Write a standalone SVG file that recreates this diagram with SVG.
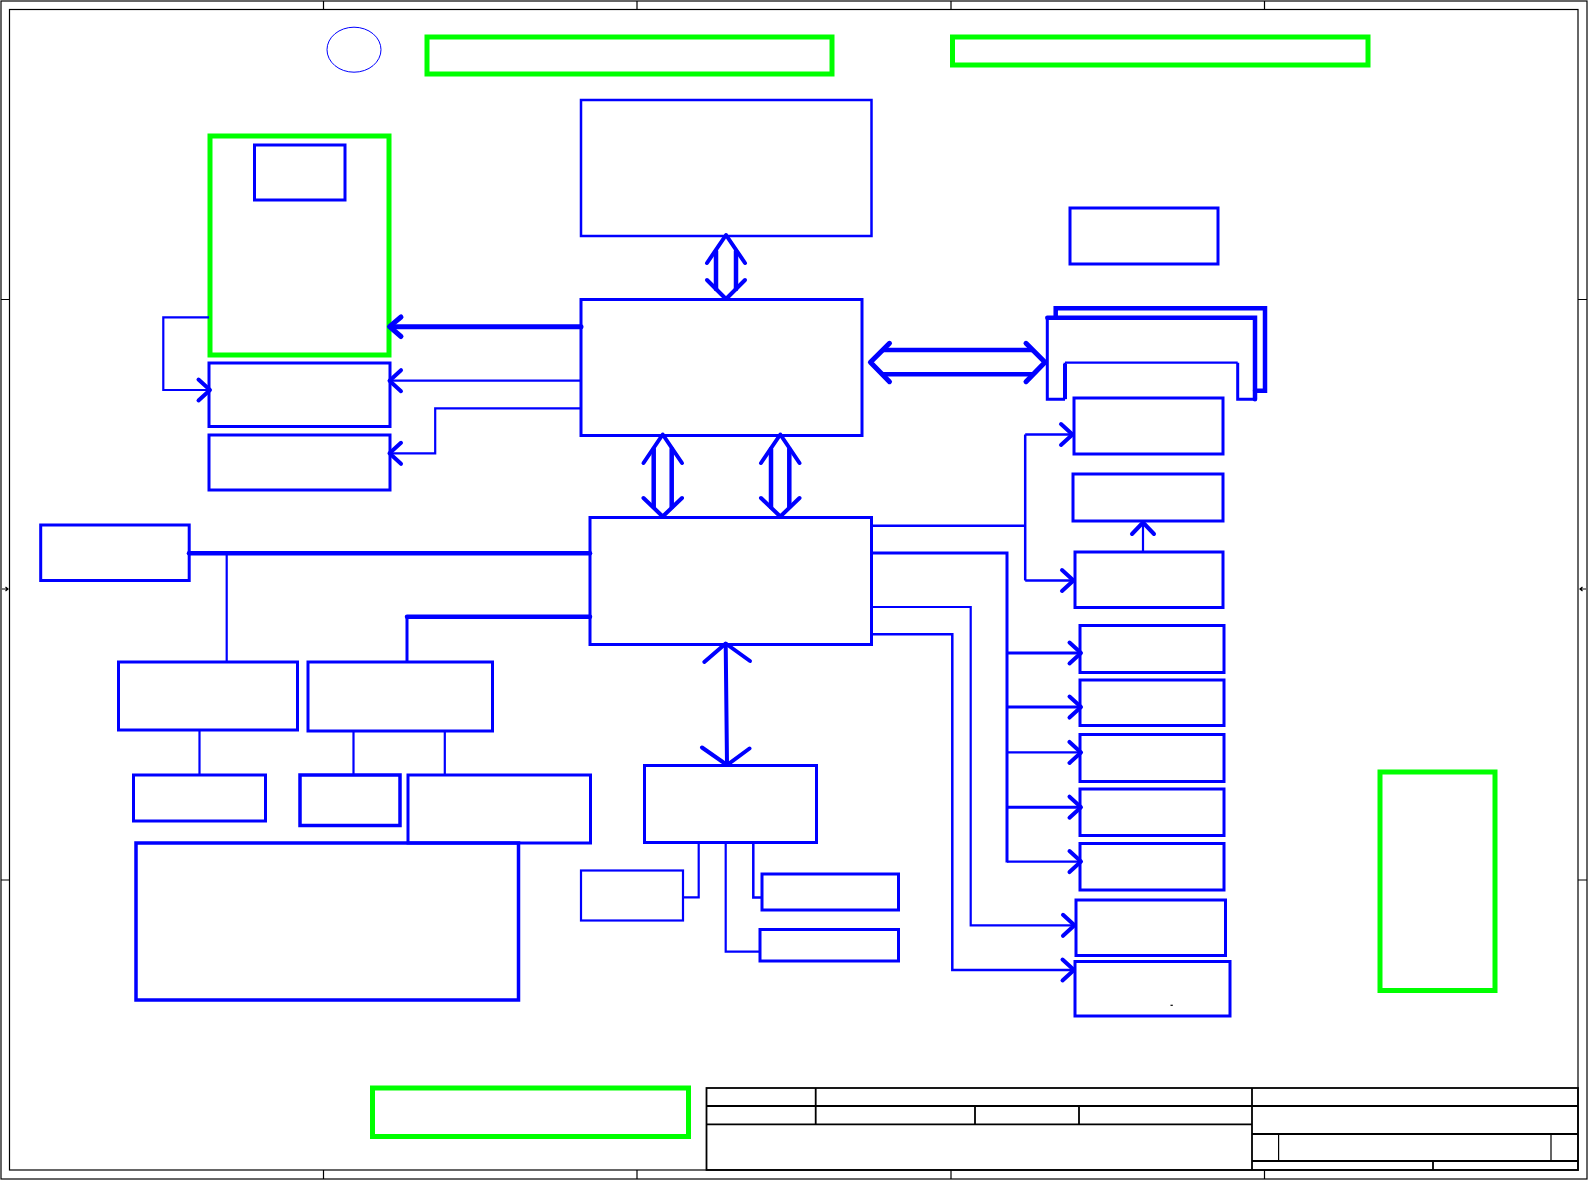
<svg xmlns="http://www.w3.org/2000/svg" width="1589" height="1180" viewBox="0 0 1589 1180">
<style>
.k{fill:none;stroke:#000;stroke-width:1.2}
.kt{fill:none;stroke:#000;stroke-width:1.8}
.b{fill:none;stroke:#0000ff;stroke-width:3}
.bt{fill:none;stroke:#0000ff;stroke-width:2.5}
.g{fill:none;stroke:#00ff00;stroke-width:5}
.w{fill:none;stroke:#0000ff;stroke-width:2.2}
.w3{fill:none;stroke:#0000ff;stroke-width:3}
.thick{fill:none;stroke:#0000ff;stroke-width:4.5}
.ch{fill:none;stroke:#0000ff;stroke-width:4;stroke-linecap:round;stroke-linejoin:round}
.chb{fill:none;stroke:#0000ff;stroke-width:5;stroke-linecap:round;stroke-linejoin:round}
.dl{fill:none;stroke:#0000ff;stroke-width:4.5;stroke-linecap:round}
</style>
<defs>
<polyline id="chR" points="-11.5,-10.5 0,0 -11.5,10.5"/>
<polyline id="chL" points="11.5,-10.5 0,0 11.5,10.5"/>
<polyline id="chU" points="-11,11.5 0,0 11,11.5"/>
</defs>
<rect width="1589" height="1180" fill="#fff"/>
<g id="frame">
<rect class="k" x="1" y="1" width="1586" height="1178"/>
<rect class="k" x="9.5" y="9.5" width="1568.5" height="1160.5"/>
<path class="k" d="M323.5 1V9.5M637 1V9.5M951 1V9.5M1264.5 1V9.5M323.5 1170V1179M637 1170V1179M951 1170V1179M1264.5 1170V1179M1 299.5H9.5M1 880H9.5M1578 299.5H1587M1578 880H1587"/>
<path class="k" d="M2 589H8M5.5 587L8 589L5.5 591M1586 589H1580M1582.5 587L1580 589L1582.5 591"/>
</g>
<g id="title-block">
<rect class="kt" x="706.5" y="1088" width="871.5" height="82"/>
<path class="kt" d="M706.5 1106H1578M706.5 1124.3H1252M1252 1088V1170M815.7 1088V1124.3M975 1106V1124.3M1079 1106V1124.3M1252 1134H1578M1252 1161H1578M1433 1161V1170"/>
<path class="k" d="M1278.6 1134V1161M1551 1134V1161"/>
</g>
<g id="green-frames">
<rect id="g-top-left" class="g" x="427" y="37" width="405" height="37"/>
<rect id="g-top-right" class="g" x="952.5" y="37" width="415.5" height="28"/>
<rect id="g-left" class="g" x="210" y="136" width="179" height="219"/>
<rect id="g-right" class="g" x="1380" y="772" width="115" height="218.5"/>
<rect id="g-bottom" class="g" x="372.5" y="1088" width="316" height="48.5"/>
</g>
<g id="logo-circle"><ellipse cx="354" cy="49.7" rx="27" ry="22.5" fill="none" stroke="#0000ff" stroke-width="1"/></g>
<g id="nodes">
<rect id="n-cpu-inner" class="b" x="254.5" y="145" width="90.5" height="55"/>
<rect id="n-top" class="bt" x="581" y="100" width="290.5" height="136"/>
<rect id="n-nb" class="b" x="581" y="299.5" width="281" height="136"/>
<rect id="n-l1" class="b" x="209" y="363" width="181" height="63.5"/>
<rect id="n-l2" class="b" x="209" y="435" width="181" height="55"/>
<rect id="n-sb" class="b" x="590" y="517.5" width="281.5" height="127"/>
<rect id="n-left" class="b" x="40.7" y="525" width="148.5" height="55.5"/>
<rect id="n-a" class="b" x="118.5" y="662" width="179" height="68"/>
<rect id="n-b" class="b" x="308" y="662" width="184.5" height="69"/>
<rect id="n-c" class="b" x="133.5" y="775" width="132" height="46"/>
<rect id="n-d" class="b" x="300" y="775" width="100" height="50.5" style="stroke-width:3.5"/>
<rect id="n-e" class="b" x="408" y="775" width="182.5" height="68"/>
<rect id="n-f" class="b" x="136" y="843" width="382.5" height="157" style="stroke-width:3.5"/>
<rect id="n-sio" class="b" x="644.5" y="765.5" width="172" height="77"/>
<rect id="n-s1" class="w" x="581" y="870.5" width="102" height="50"/>
<rect id="n-s2" class="b" x="762" y="874" width="136.5" height="36"/>
<rect id="n-s3" class="b" x="760" y="929.5" width="138.5" height="31.5"/>
<rect id="n-r0" class="b" x="1070" y="208" width="148" height="56"/>
<g id="n-mem">
<path class="w3" d="M1047.3 317.7V399.3H1065M1065 399.3V362.7M1237.7 362.7V399.3H1255"/>
<path class="w" d="M1065 362.7H1237.7"/>
<path class="thick" d="M1047.3 317.7H1255V399.3" stroke-linecap="round"/>
<path class="thick" d="M1055.7 317.7V308.3H1265V390.7H1255" stroke-linecap="round"/>
<path class="thick" d="M1065 364V399" style="stroke-width:4"/>
</g>
<rect id="n-r1" class="b" x="1074" y="398" width="149" height="56"/>
<rect id="n-r2" class="b" x="1073" y="474" width="150" height="47"/>
<rect id="n-r3" class="b" x="1075" y="552" width="148" height="55.5"/>
<rect id="n-r4" class="b" x="1080" y="625.5" width="144" height="47"/>
<rect id="n-r5" class="b" x="1080" y="680" width="144" height="45.5"/>
<rect id="n-r6" class="b" x="1080" y="734.5" width="144" height="47"/>
<rect id="n-r7" class="b" x="1080" y="789" width="144" height="46.5"/>
<rect id="n-r8" class="b" x="1080" y="843.5" width="144" height="46.5"/>
<rect id="n-r9" class="b" x="1076" y="900" width="149.5" height="55.5"/>
<rect id="n-r10" class="b" x="1075" y="961.5" width="155" height="54.5"/>
<path d="M1170.5 1005.3H1172.8" stroke="#000" stroke-width="1.2"/>
</g>
<g id="connectors">
<!-- top double arrow -->
<path class="dl" d="M716 251V289M736 251V289"/>
<polyline class="ch" points="707,263 726,235 745,263"/>
<polyline class="ch" points="707,280 726,299 745,280"/>
<!-- NB-SB double arrows -->
<path class="dl" d="M653.7 449V507M671.7 449V507M771 449V507M789.3 449V507"/>
<polyline class="ch" points="643.5,463 662.7,434.5 682,463"/>
<polyline class="ch" points="643.5,498 662.7,516.5 682,498"/>
<polyline class="ch" points="761,463 780.3,434.5 799.5,463"/>
<polyline class="ch" points="761,498 780.3,516.5 799.5,498"/>
<!-- NB-mem double arrow -->
<path class="dl" d="M883 350H1032M883 374.3H1032"/>
<polyline class="chb" points="889.5,343.3 870.4,362.3 889.5,381.7"/>
<polyline class="chb" points="1026,343.3 1045,362.3 1026,381.7"/>
<!-- NB to left -->
<path class="dl" d="M581 326.7H392" style="stroke-width:5"/>
<polyline class="chb" points="401,317 389.5,326.7 401,336.5"/>
<path class="w" d="M581 380.7H391"/>
<use href="#chL" class="ch" x="389.5" y="380.7"/>
<path class="w" d="M581 408.3H435.2V453.3H391"/>
<use href="#chL" class="ch" x="389.5" y="453.3"/>
<path class="w" d="M209 317.3H163.3V390H208"/>
<use href="#chR" class="ch" x="210" y="390"/>
<!-- SB left -->
<path class="thick" d="M189 553.3H590" stroke-linecap="round"/>
<path class="w" d="M226.7 553.3V662"/>
<path class="thick" d="M407 616.7H590" stroke-linecap="round"/>
<path class="w3" d="M407 616.7V662"/>
<path class="w" d="M199.5 730V775M353.5 731V775M444.8 731V775"/>
<!-- SB down -->
<path class="dl" d="M725.7 644L727 764" style="stroke-width:4"/>
<polyline class="ch" points="704.3,662 725.7,643.5 750,661"/>
<polyline class="ch" points="702,747.5 727,765 749.5,748.5"/>
<path class="w" d="M698.7 843V897.4H682M725.7 843V951.6H761"/>
<path class="bt" d="M753.3 843V897.4H762"/>
<!-- SB right -->
<path class="bt" d="M871.7 525.7H1025.2M1025.2 434.5V580.5M1025.2 434.5H1071M1025.2 580.5H1072"/>
<use href="#chR" class="ch" x="1072.5" y="434.5"/>
<use href="#chR" class="ch" x="1073.5" y="580.5"/>
<path class="w" d="M1143 552V524"/>
<use href="#chU" class="ch" x="1143" y="522.5"/>
<path class="w3" d="M871.7 552.9H1007V862.5M1007 653H1079M1007 707.1H1079M1007 807.2H1079"/>
<path class="w" d="M1007 752.4H1079M1007 861.6H1079"/>
<use href="#chR" class="ch" x="1081" y="653"/>
<use href="#chR" class="ch" x="1081" y="707.1"/>
<use href="#chR" class="ch" x="1081" y="752.4"/>
<use href="#chR" class="ch" x="1081" y="807.2"/>
<use href="#chR" class="ch" x="1081" y="861.6"/>
<path class="w" d="M871.7 607H970.7V925.3H1074"/>
<use href="#chR" class="ch" x="1074.5" y="925.3"/>
<path class="bt" d="M871.7 634.3H952.3V970H1073"/>
<use href="#chR" class="ch" x="1074" y="970"/>
</g>
</svg>
